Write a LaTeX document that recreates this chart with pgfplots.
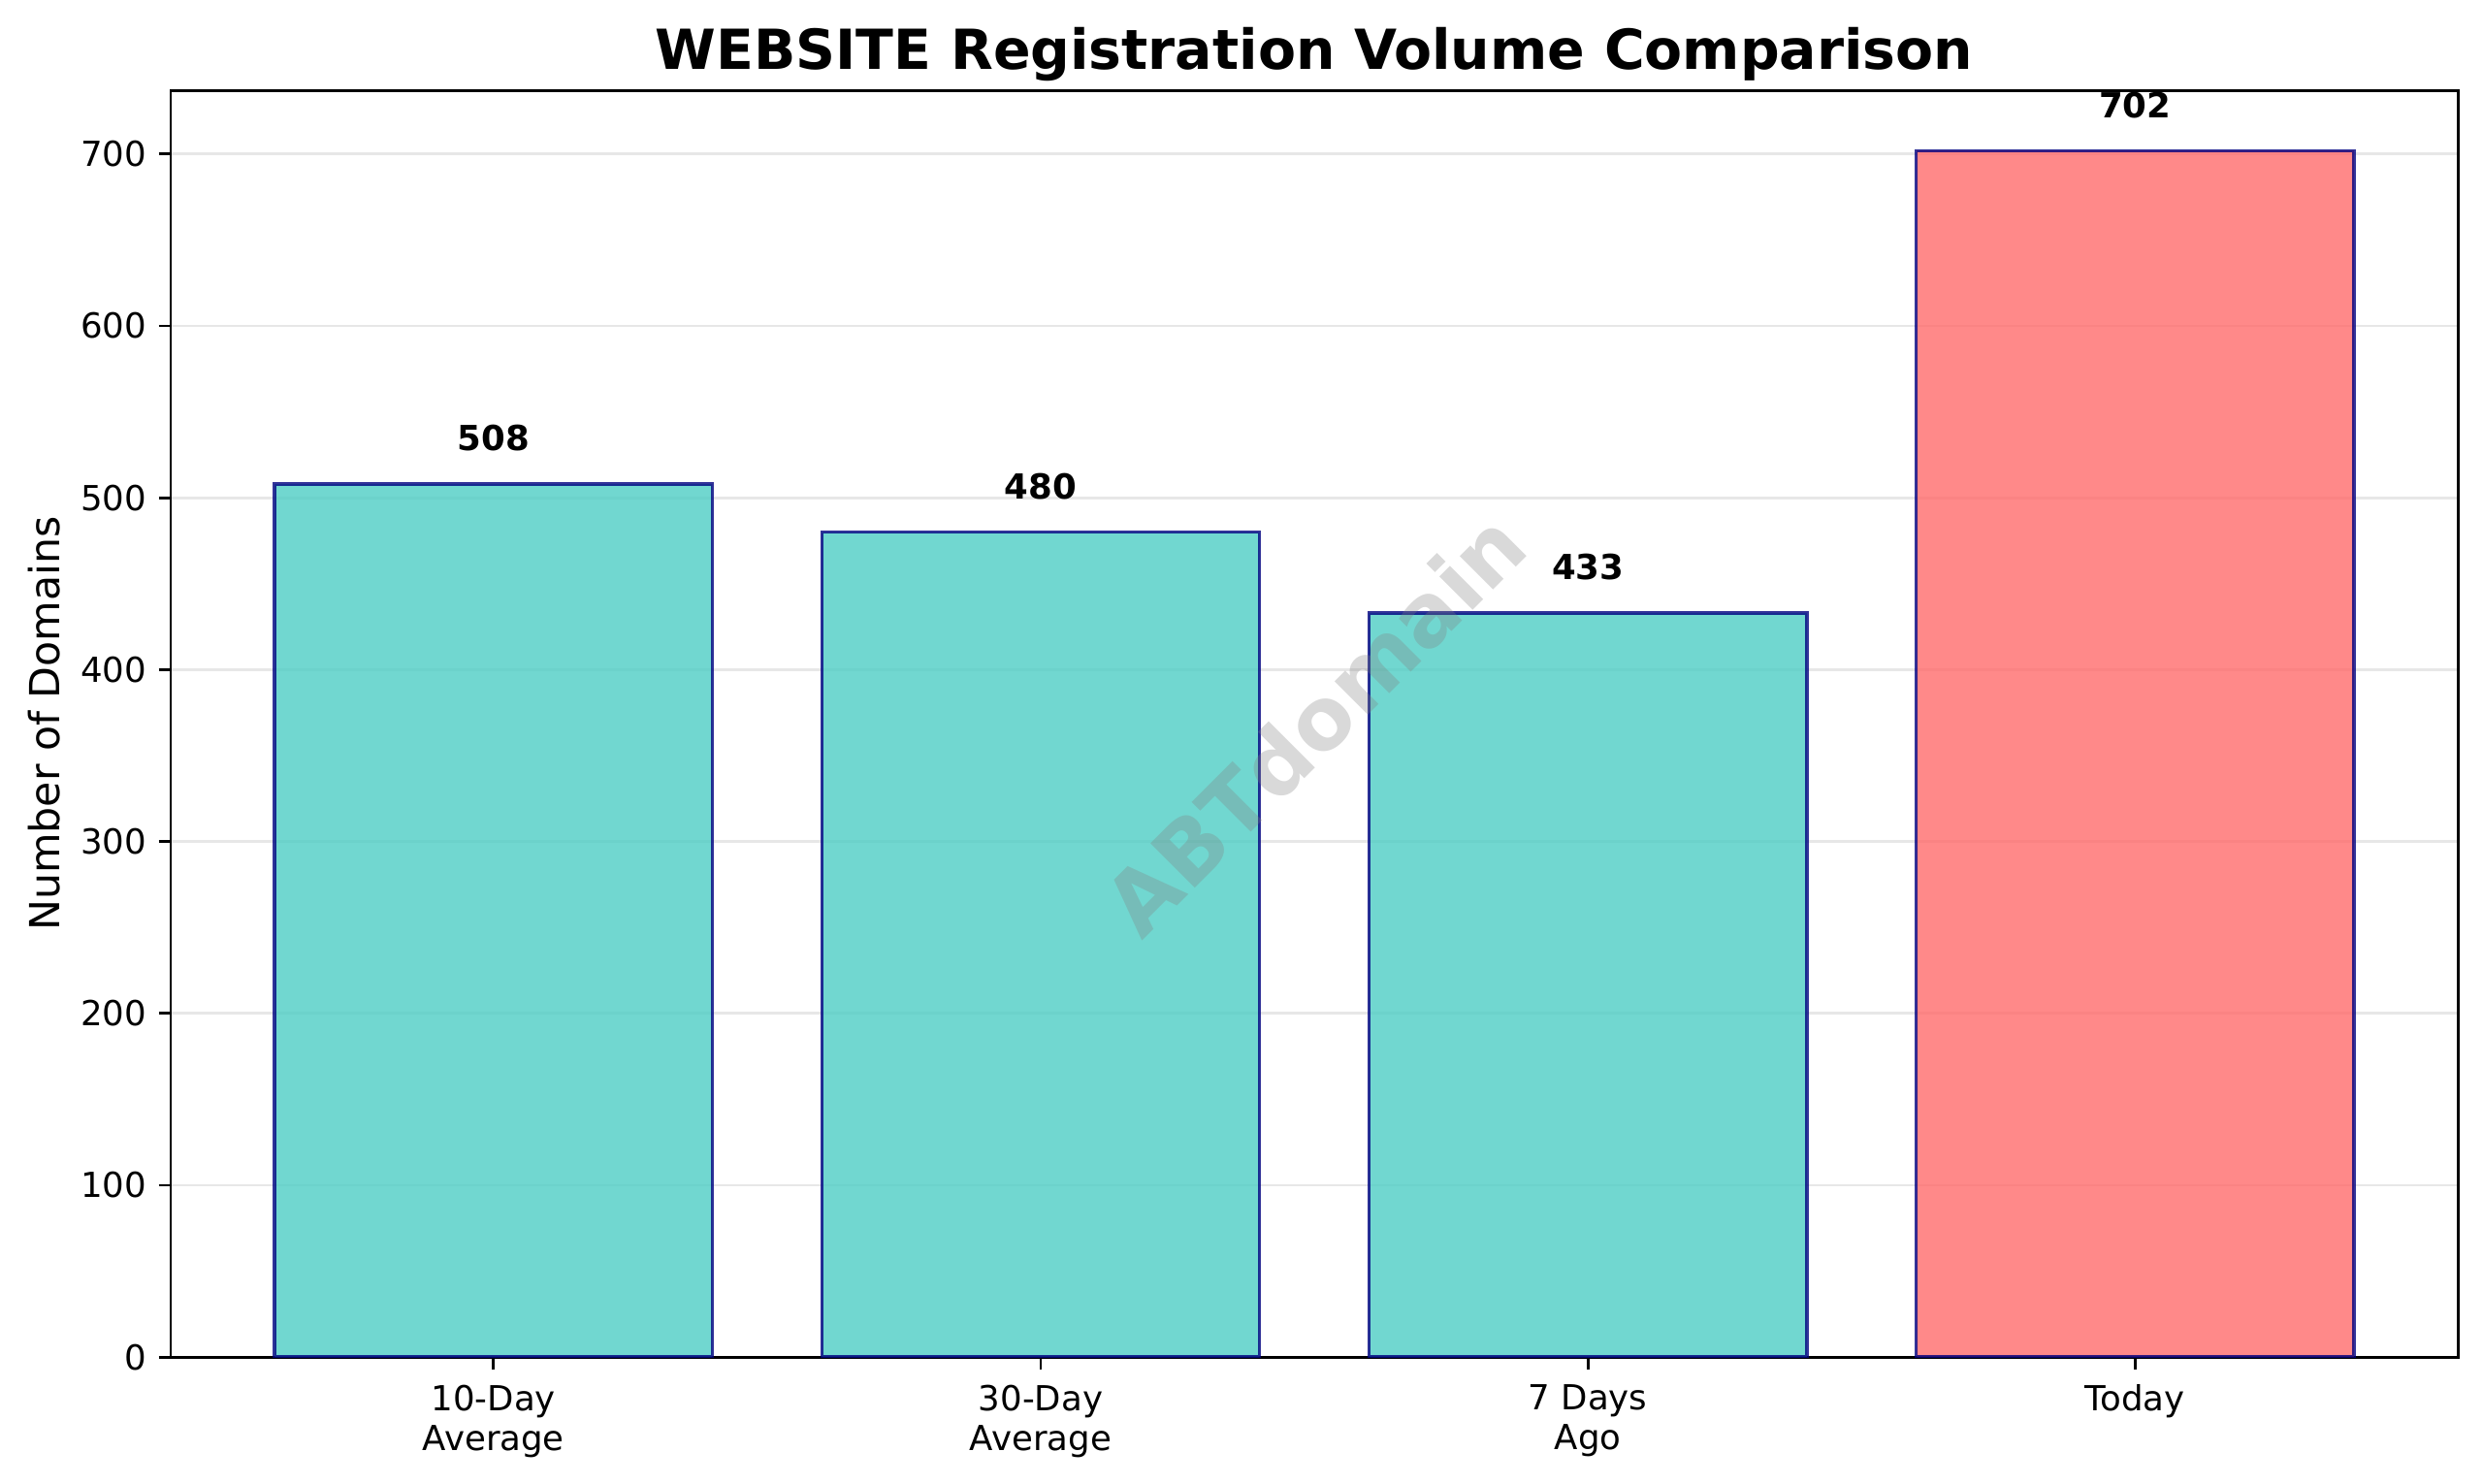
\documentclass[border=0pt]{standalone}
\usepackage{fontspec}
\setmainfont{DejaVu Sans}
\usepackage{pgfplots}
\pgfplotsset{compat=1.18}
\definecolor{barteal}{HTML}{4ECDC4}
\definecolor{barred}{HTML}{FF6B6B}
\definecolor{edgenavy}{RGB}{0,0,128}
\definecolor{gridgray}{HTML}{B0B0B0}

\begin{document}
\begin{tikzpicture}
\useasboundingbox (0,0) rectangle (720pt,430.3pt);
\begin{axis}[
    at={(49.5pt,36.8pt)}, anchor=south west,
    scale only axis, width=663.2pt, height=367.3pt,
    xmin=-0.59, xmax=3.59, ymin=0, ymax=737.1,
    xtick={0,1,2,3},
    xticklabels={{10-Day\\Average},{30-Day\\Average},{7 Days\\Ago},{Today}},
    ytick={0,100,...,700},
    xtick pos=left, ytick pos=left,
    tick align=outside, major tick length=3.5pt,
    tick style={black, line width=0.8pt},
    axis line style={line width=0.8pt},
    ymajorgrids,
    major grid style={gridgray, opacity=0.3, line width=0.8pt},
    /pgf/number format/assume math mode=true,
    tick label style={font=\fontsize{10}{11.6}\selectfont},
    xticklabel style={align=center, yshift=-1pt},
    title={WEBSITE Registration Volume Comparison},
    title style={at={(0.5,1)}, anchor=base, yshift=0pt, inner sep=0pt,
        font=\bfseries\fontsize{16}{19}\selectfont},
    ylabel={Number of Domains},
    ylabel style={at={(axis description cs:0,0.5)}, anchor=center,
        yshift=36.6pt, font=\fontsize{12}{14}\selectfont},
    nodes near coords,
    every node near coord/.append style={anchor=south, inner sep=0pt,
        yshift=9pt, opacity=1, fill opacity=1, text opacity=1, text=black,
        font=\bfseries\fontsize{10}{12}\selectfont},
]
\addplot[ybar, bar width=0.8, bar shift=0pt, fill=barteal, fill opacity=0.8,
    draw=edgenavy, draw opacity=0.8, line width=1pt]
    coordinates {(0,508) (1,480) (2,433)};
\addplot[ybar, bar width=0.8, bar shift=0pt, fill=barred, fill opacity=0.8,
    draw=edgenavy, draw opacity=0.8, line width=1pt]
    coordinates {(3,702)};
\node[rotate=45, text=gray, opacity=0.3,
    font=\bfseries\fontsize{25}{28}\selectfont]
    at (rel axis cs:0.5,0.5) {ABTdomain};
\end{axis}
\end{tikzpicture}
\end{document}
